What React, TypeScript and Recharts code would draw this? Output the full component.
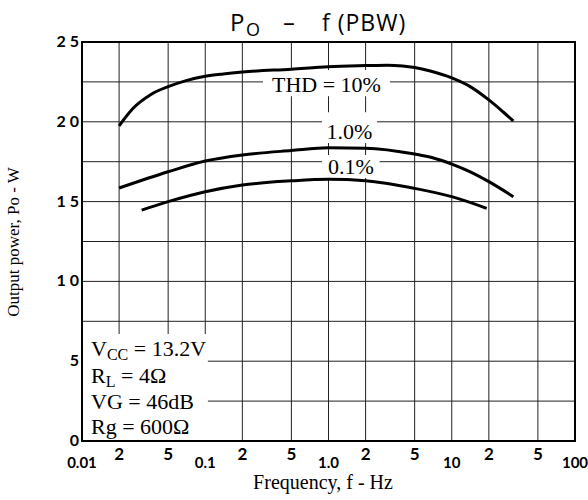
import React from 'react';
import { LineChart, Line, XAxis, YAxis, CartesianGrid, ReferenceArea } from 'recharts';

// frequency (Hz) and output power (W)
const thd10Freq = [0.02, 0.026, 0.036, 0.05, 0.07, 0.1, 0.14, 0.2, 0.5, 1, 2, 3, 4, 5, 6.7, 10, 14, 20, 26, 31.6];
const thd10Power = [19.75, 20.85, 21.7, 22.2, 22.58, 22.85, 23.0, 23.12, 23.3, 23.45, 23.52, 23.55, 23.5, 23.4, 23.18, 22.75, 22.22, 21.37, 20.63, 20.05];
const thd1Freq = [0.02, 0.05, 0.1, 0.2, 0.5, 1, 2, 5, 7, 10, 14, 20, 31.6];
const thd1Power = [15.85, 16.87, 17.54, 17.92, 18.2, 18.37, 18.35, 17.98, 17.75, 17.35, 16.88, 16.25, 15.31];
const thd01Freq = [0.0305, 0.05, 0.1, 0.2, 0.5, 1, 2, 5, 10, 19.2];
const thd01Power = [14.47, 15.0, 15.62, 16.04, 16.3, 16.4, 16.31, 15.83, 15.31, 14.58];

const xTicks = [0.01, 0.02, 0.05, 0.1, 0.2, 0.5, 1, 2, 5, 10, 20, 50, 100];
const xTickLabels = ['0.01', '2', '5', '0.1', '2', '5', '1.0', '2', '5', '10', '2', '5', '100'];
const xDecades = [0.01, 0.1, 1, 10, 100];
const yTicks = [0, 2.5, 5, 7.5, 10, 12.5, 15, 17.5, 20, 22.5, 25];
const yLabelValues = [0, 5, 10, 15, 20, 25];
const yLabelText = ['0', '5', '1 0', '1 5', '2 0', '2 5'];

const conditions = ['13.2V', '4\u03A9', '46dB', '600\u03A9'];

const SERIF = '"Liberation Serif", "Times New Roman", serif';
const SANS = '"Open Sans", sans-serif';
const TICK_FONT = 'Lato, sans-serif';

const toPoints = (f: number[], p: number[]) => f.map((v, i) => ({ f: v, p: p[i] }));

const XTick = ({ x, y, payload }: any) => {
  const i = xTicks.indexOf(payload.value);
  const major = xDecades.includes(payload.value);
  return (
    <text
      x={x}
      y={y + (major ? 27 : 19)}
      textAnchor="middle"
      fontFamily={TICK_FONT}
      fontWeight={700}
      fontSize={major ? 15 : 17}
      fill="#000"
    >
      {xTickLabels[i]}
    </text>
  );
};

const YTick = ({ x, y, payload }: any) => {
  const i = yLabelValues.indexOf(payload.value);
  if (i < 0) return null;
  return (
    <text x={x - 3} y={y + 5} textAnchor="end" fontFamily={TICK_FONT} fontWeight={700} fontSize={16} fill="#000">
      {yLabelText[i]}
    </text>
  );
};

const curveLabel = (text: string) => (props: any) => {
  const { x, y, width, height } = props.viewBox;
  return (
    <text x={x + width / 2} y={y + height - 4} textAnchor="middle" fontFamily={SERIF} fontSize={22} fill="#000">
      {text}
    </text>
  );
};

const ConditionsBox = (props: any) => {
  const { x, y, height } = props.viewBox;
  const bottom = y + height;
  const lx = x + 9;
  return (
    <g fontFamily={SERIF} fontSize={22} fill="#000">
      <text x={lx} y={bottom - 85}>
        V<tspan fontSize={16} dy={4}>CC</tspan>
        <tspan dy={-4}> = {conditions[0]}</tspan>
      </text>
      <text x={lx} y={bottom - 58}>
        R<tspan fontSize={16} dy={4}>L</tspan>
        <tspan dy={-4}> = {conditions[1]}</tspan>
      </text>
      <text x={lx} y={bottom - 32}>VG = {conditions[2]}</text>
      <text x={lx} y={bottom - 7}>Rg = {conditions[3]}</text>
    </g>
  );
};

export default function App() {
  return (
    <div style={{ position: 'absolute', left: 0, top: 0, width: 588, height: 500, background: '#fff' }}>
      <LineChart width={588} height={500} margin={{ top: 42, right: 13, bottom: 19, left: 42 }}>
        <CartesianGrid stroke="#222" strokeWidth={1} />
        <XAxis
          dataKey="f"
          type="number"
          scale="log"
          domain={[0.01, 100]}
          ticks={xTicks}
          interval={0}
          allowDataOverflow
          tick={<XTick />}
          tickLine={false}
          axisLine={false}
          tickSize={0}
          tickMargin={0}
          height={40}
        />
        <YAxis
          type="number"
          domain={[0, 25]}
          ticks={yTicks}
          interval={0}
          allowDataOverflow
          tick={<YTick />}
          tickLine={false}
          axisLine={false}
          tickSize={0}
          tickMargin={0}
          width={40}
        />
        <ReferenceArea x1={0.294} x2={3.15} y1={21.6} y2={23.25} fill="#fff" fillOpacity={1} stroke="none" label={curveLabel('THD = 10%')} />
        <ReferenceArea x1={0.885} x2={2.47} y1={18.67} y2={20.6} fill="#fff" fillOpacity={1} stroke="none" label={curveLabel('1.0%')} />
        <ReferenceArea x1={0.885} x2={2.6} y1={16.48} y2={17.92} fill="#fff" fillOpacity={1} stroke="none" label={curveLabel('0.1%')} />
        <ReferenceArea x1={0.01} x2={0.105} y1={0} y2={6.7} fill="#fff" fillOpacity={1} stroke="none" label={(p: any) => <ConditionsBox {...p} />} />
        <ReferenceArea x1={0.01} x2={100} y1={0} y2={25} fill="none" stroke="#000" strokeWidth={2} />
        <Line data={toPoints(thd10Freq, thd10Power)} dataKey="p" type="monotone" stroke="#000" strokeWidth={3} dot={false} isAnimationActive={false} />
        <Line data={toPoints(thd1Freq, thd1Power)} dataKey="p" type="monotone" stroke="#000" strokeWidth={3} dot={false} isAnimationActive={false} />
        <Line data={toPoints(thd01Freq, thd01Power)} dataKey="p" type="monotone" stroke="#000" strokeWidth={3} dot={false} isAnimationActive={false} />
      </LineChart>
      <svg width={588} height={500} style={{ position: 'absolute', left: 0, top: 0, pointerEvents: 'none' }}>
        <g fontFamily={SANS} fontSize={23} fill="#000">
          <text x={230} y={31} fontSize={24}>P</text>
          <text x={246} y={36} fontSize={18}>O</text>
          <text x={289} y={31} textAnchor="middle">–</text>
          <text x={322} y={31} letterSpacing={1}>f (PBW)</text>
        </g>
        <text transform="translate(19, 242) rotate(-90)" textAnchor="middle" fontFamily={SERIF} fontSize={17} fill="#000">
          Output power, Po - W
        </text>
        <text x={323} y={489} textAnchor="middle" fontFamily={SERIF} fontSize={20} fill="#000">
          Frequency, f - Hz
        </text>
      </svg>
    </div>
  );
}
